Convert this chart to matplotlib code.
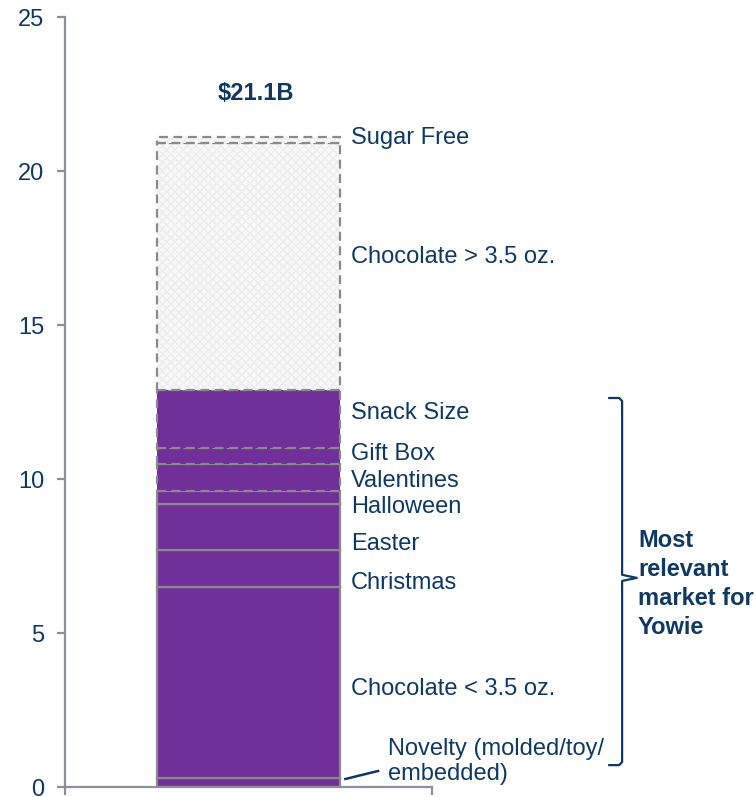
import matplotlib.pyplot as plt

# US chocolate / candy market by segment, $B
segments = ["Novelty (molded/toy/\nembedded)", "Chocolate < 3.5 oz.", "Christmas", "Easter",
            "Halloween", "Valentines", "Gift Box", "Snack Size",
            "Chocolate > 3.5 oz.", "Sugar Free"]
values = [0.3, 6.2, 1.2, 1.5, 0.4, 0.9, 0.5, 1.9, 8.0, 0.2]
relevant = [True, True, True, True, True, True, True, True, False, False]
dashed = [False, False, False, False, False, True, True, True, True, True]
total_label = "$21.1B"
bracket_text = "Most\nrelevant\nmarket for\nYowie"

NAVY = "#0F3863"
PURPLE = "#702F99"
EDGE = "#8A8A8A"
AXIS = "#8A8F99"

plt.rcParams["font.family"] = ["Liberation Sans", "DejaVu Sans"]

fig = plt.figure(figsize=(7.56, 7.97), dpi=100)
ax = fig.add_axes([65 / 756, 10 / 797, 367 / 756, 770 / 797])

bottom = 0.0
tops = []
for name, val, rel, dash in zip(segments, values, relevant, dashed):
    if rel:
        ax.bar(0.5, val, width=0.5, bottom=bottom, color=PURPLE, linewidth=0)
    else:
        ax.bar(0.5, val, width=0.5, bottom=bottom, color="#F8F8F8",
               hatch="xxxx", edgecolor="#EDEDED", linewidth=0)
    ax.bar(0.5, val, width=0.5, bottom=bottom, fill=False, edgecolor=EDGE,
           linewidth=1.6, linestyle=(0, (4, 2.5)) if dash else "-")
    bottom += val
    tops.append(bottom)

# segment labels to the right of the bar, shifted off the midpoint so
# the thin slices don't collide
label_nudge = [0, -0.22, -0.48, -0.56, -0.31, -0.12, 0.06, 0.19, 0.31, 0.07]
lower = 0.0
for name, top, nudge in zip(segments, tops, label_nudge):
    mid = (lower + top) / 2 + nudge
    lower = top
    if name.startswith("Novelty"):
        ax.text(0.879, 0.84, name, fontsize=17, color=NAVY, va="center",
                ha="left", linespacing=1.17, clip_on=False)
        ax.plot([0.764, 0.853], [0.26, 0.52], color=NAVY, lw=1.8, clip_on=False)
        continue
    ax.text(0.779, mid, name, fontsize=17, color=NAVY, va="center", ha="left")

ax.text(0.52, tops[-1] + 1.42, total_label, fontsize=17, fontweight="bold",
        color=NAVY, ha="center", va="center")

# curly bracket around the relevant segments
bx = 1.518
y_top, y_bot, y_mid = 12.63, 0.71, 6.79
ax.plot([bx - 0.035, bx - 0.008, bx, bx, bx + 0.04, bx, bx, bx - 0.008, bx - 0.035],
        [y_top, y_top, y_top - 0.1, y_mid + 0.1, y_mid, y_mid - 0.1,
         y_bot + 0.1, y_bot, y_bot],
        color=NAVY, lw=1.6, clip_on=False)
ax.text(1.561, 6.6, bracket_text, fontsize=17, fontweight="bold",
        color=NAVY, ha="left", va="center", linespacing=1.34)

ax.set_xlim(0, 1)
ax.set_ylim(0, 25)
ax.set_yticks([0, 5, 10, 15, 20, 25])
ax.set_xticks([0, 1])
ax.set_xticklabels([])
for side in ["top", "right"]:
    ax.spines[side].set_visible(False)
for side in ["left", "bottom"]:
    ax.spines[side].set_color(AXIS)
    ax.spines[side].set_linewidth(1.6)
ax.tick_params(axis="both", colors=AXIS, width=1.6, length=6)
ax.tick_params(axis="y", labelcolor=NAVY, labelsize=17, pad=9)

fig.savefig("out.png", dpi=100)
